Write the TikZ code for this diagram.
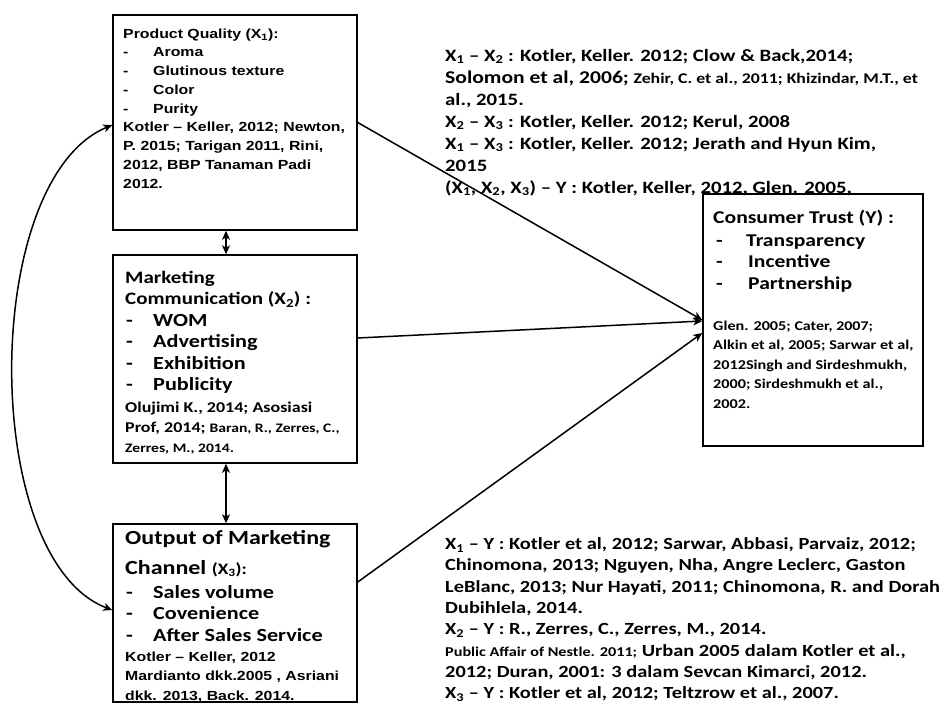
\documentclass[tikz,border=0pt]{standalone}
\usepackage{fontspec}
\setmainfont{Carlito}[FakeStretch=1.2]
\newfontfamily\arialf{Liberation Sans}[FakeStretch=1.2]
\usetikzlibrary{arrows.meta}
\newcommand\dashitem[2][30pt]{\makebox[#1][l]{-}#2}
\newcommand\mylines[1]{\vtop{\halign{##\hfil\cr#1\crcr}}}
\newcommand\fs[2]{\fontsize{#1}{#2}\selectfont}
\begin{document}
\begin{tikzpicture}[x=1pt,y=-1pt,
  box/.style={draw, line width=1.5pt, rectangle, inner sep=0pt},
  txt/.style={anchor=base west, inner sep=0pt, font=\bfseries},
  tip/.tip={Stealth[length=9pt,width=8pt,inset=2.5pt]},
  conn/.style={line width=1.5pt, -tip},
  dconn/.style={line width=1.5pt, tip-tip}]
\useasboundingbox (0,0) rectangle (944,704);

% boxes
\node[box, minimum width=244, minimum height=215] (X1) at (235,122.5) {};
\node[box, minimum width=244, minimum height=208] (X2) at (235,359) {};
\node[box, minimum width=244, minimum height=178] (X3) at (235,613) {};
\node[box, minimum width=220, minimum height=252] (Y) at (813,320) {};

% X1 text
\node[txt] (x1t) at (123,38) {\arialf\fs{13.2}{18.75}\mylines{%
Product Quality  (X\textsubscript{1}):\cr
\dashitem{Aroma}\cr
\dashitem{Glutinous texture}\cr
\dashitem{Color}\cr
\dashitem{Purity}\cr
Kotler – Keller, 2012; Newton,\cr
P. 2015; Tarigan 2011, Rini,\cr
2012, BBP Tanaman Padi\cr
2012.}};

% X2 text
\node[txt] (x2h) at (125,283) {\fs{17.5}{21.6}\mylines{%
Marketing\cr
Communication (X\textsubscript{2}) :}};
\node[txt] (x2i) at (126,326) {\fs{18.5}{21.6}\mylines{%
\dashitem[27pt]{WOM}\cr
\dashitem[27pt]{Advertising}\cr
\dashitem[27pt]{Exhibition}\cr
\dashitem[27pt]{Publicity}}};
\node[txt] (x2c) at (125,412) {\fs{15}{20}\mylines{%
Olujimi  K., 2014; Asosiasi\cr
Prof, 2014; {\fs{13}{12}Baran, R., Zerres, C.,}\cr
{\fs{13}{12}Zerres, M., 2014.}}};

% X3 text
\node[txt] (x3a) at (125,544) {\fs{20}{24}Output of Marketing};
\node[txt] (x3b) at (125,574) {\fs{20}{24}Channel  {\fs{16}{20}(X\textsubscript{3}):}};
\node[txt] (x3i) at (126,598) {\fs{18.5}{21.5}\mylines{%
\dashitem[27pt]{Sales volume}\cr
\dashitem[27pt]{Covenience}\cr
\dashitem[27pt]{After Sales Service}}};
\node[txt] (x3c) at (125,661) {\arialf\fs{13.2}{19.7}\mylines{%
Kotler – Keller, 2012\cr
Mardianto dkk.2005 ,  Asriani\cr
dkk. 2013,  Back. 2014.}};

% Y text
\node[txt] (yh) at (713,223) {\fs{18}{21.5}Consumer Trust (Y) :};
\node[txt] (yi) at (716,246) {\fs{18}{21.5}\mylines{%
\dashitem{Transparency}\cr
\dashitem[32pt]{Incentive}\cr
\dashitem[32pt]{Partnership}}};
\node[txt] (yc) at (713,330) {\fs{13.5}{19.6}\mylines{%
Glen.  2005; {\fs{13.3}{12}Cater, 2007;}\cr
Alkin et al, 2005; Sarwar et al,\cr
2012Singh and Sirdeshmukh,\cr
2000; Sirdeshmukh et al.,\cr
2002.}};

% right-hand reference texts
\node[txt] (top) at (445,61) {\fs{17.3}{22}\mylines{%
X\textsubscript{1} – X\textsubscript{2} : Kotler, Keller. 2012; Clow \& Back,2014;\cr
{\fs{18}{22}Solomon et al, 2006;} {\fs{14.8}{14}Zehir, C. et al., 2011; Khizindar, M.T., et}\cr
al.,  2015.\cr
X\textsubscript{2} – X\textsubscript{3} : Kotler, Keller. 2012; Kerul, 2008\cr
X\textsubscript{1} – X\textsubscript{3} :  Kotler, Keller. 2012; Jerath and Hyun Kim,\cr
2015\cr
(X\textsubscript{1}, X\textsubscript{2}, X\textsubscript{3})  – Y : Kotler, Keller, 2012, Glen. 2005,}};

\node[txt] (bot) at (445,549.5) {\fs{17}{21.3}\mylines{%
X\textsubscript{1} – Y : Kotler et al, 2012; Sarwar, Abbasi, Parvaiz, 2012;\cr
Chinomona, 2013; Nguyen, Nha, Angre Leclerc, Gaston\cr
LeBlanc, 2013; Nur Hayati, 2011; Chinomona, R. and Dorah\cr
Dubihlela, 2014.\cr
X\textsubscript{2} – Y : R., Zerres, C., Zerres, M., 2014.\cr
{\fs{13.5}{14}Public Affair of Nestle. 2011;} Urban 2005 dalam Kotler et al.,\cr
2012; Duran, 2001: 3 dalam Sevcan Kimarci, 2012.\cr
X\textsubscript{3} – Y : Kotler et al, 2012;  Teltzrow et al., 2007.}};

% connectors
\coordinate (cx) at (226,0);
\draw[dconn] (cx |- X1.south) -- (cx |- X2.north);
\draw[dconn] (cx |- X2.south) -- (cx |- X3.north);
\draw[conn] (X1.east) -- (Y.west);
\draw[conn] ([yshift=21pt]X2.east) -- ([yshift=-1pt]Y.west);
\draw[conn] ([yshift=31pt]X3.east) -- ([yshift=-13pt]Y.west);
\draw[dconn] ([yshift=-2.5pt]X1.west) .. controls (-20,180) and (-20,560) .. ([yshift=3pt]X3.west);
\end{tikzpicture}
\end{document}
